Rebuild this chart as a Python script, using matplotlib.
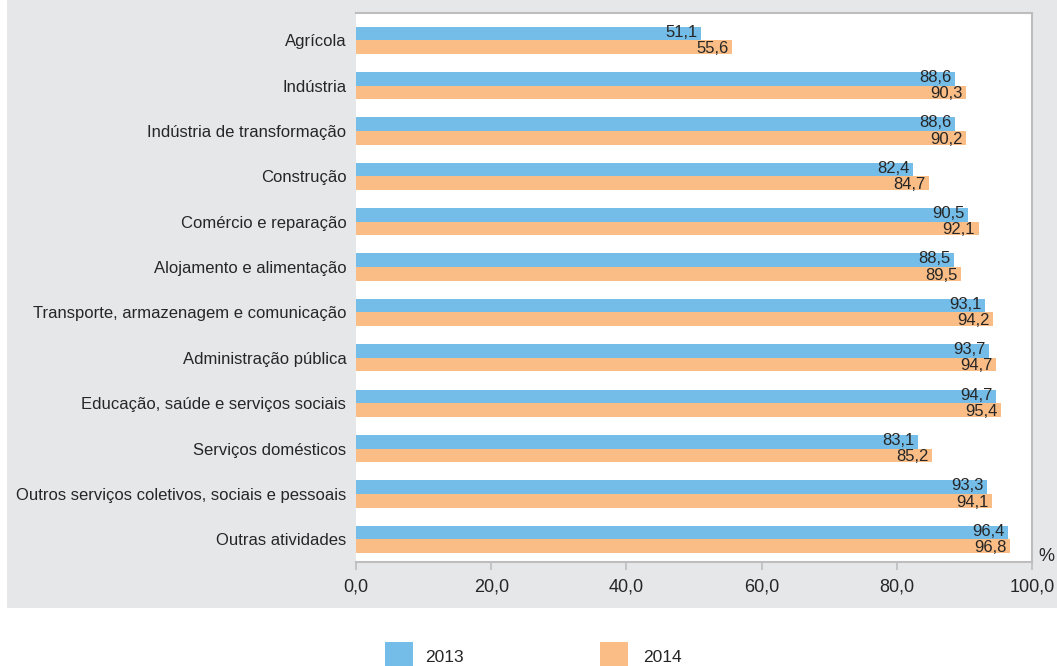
import matplotlib
matplotlib.use("Agg")
import matplotlib.pyplot as plt
from matplotlib.patches import Rectangle
import numpy as np

categories = [
    "Agrícola",
    "Indústria",
    "Indústria de transformação",
    "Construção",
    "Comércio e reparação",
    "Alojamento e alimentação",
    "Transporte, armazenagem e comunicação",
    "Administração pública",
    "Educação, saúde e serviços sociais",
    "Serviços domésticos",
    "Outros serviços coletivos, sociais e pessoais",
    "Outras atividades",
]
values_2013 = [51.1, 88.6, 88.6, 82.4, 90.5, 88.5, 93.1, 93.7, 94.7, 83.1, 93.3, 96.4]
values_2014 = [55.6, 90.3, 90.2, 84.7, 92.1, 89.5, 94.2, 94.7, 95.4, 85.2, 94.1, 96.8]
series_names = ["2013", "2014"]
x_ticks = [0, 20, 40, 60, 80, 100]

BLUE = "#74bde8"
ORANGE = "#fabd85"
PANEL = "#e6e7e9"
TEXT = "#262626"
BORDER = "#bdbdbd"
FONT = ["Liberation Sans", "DejaVu Sans"]

W, H = 1057, 666
fig = plt.figure(figsize=(W / 100, H / 100), dpi=100)
fig.patch.set_facecolor("white")

# grey background panel behind the chart
fig.patches.append(Rectangle((7 / W, 1 - 608 / H), 1 - 7 / W, 608 / H,
                             transform=fig.transFigure, facecolor=PANEL,
                             edgecolor="none", zorder=-10))

ax = fig.add_axes([356 / W, 1 - 562 / H, (1032 - 356) / W, (562 - 13) / H])
ax.set_zorder(5)
ax.set_facecolor("white")

y = np.arange(len(categories))
h = 0.30
ax.barh(y - h / 2, values_2013, height=h, color=BLUE, zorder=2)
ax.barh(y + h / 2, values_2014, height=h, color=ORANGE, zorder=2)

for i, (a, b) in enumerate(zip(values_2013, values_2014)):
    ax.text(a - 0.5, i - h / 2 - 0.03, f"{a:.1f}".replace(".", ","), ha="right",
            va="center", fontsize=12, color=TEXT, family=FONT, zorder=3)
    ax.text(b - 0.5, i + h / 2 + 0.03, f"{b:.1f}".replace(".", ","), ha="right",
            va="center", fontsize=12, color=TEXT, family=FONT, zorder=3)

ax.set_xlim(0, 100)
ax.set_ylim(len(categories) - 0.5, -0.6)
ax.set_yticks(y)
ax.set_yticklabels(categories, fontsize=12.0, color=TEXT, family=FONT)
ax.tick_params(axis="y", length=0, pad=7)
ax.set_xticks(x_ticks)
ax.set_xticklabels([f"{v:.1f}".replace(".", ",") for v in x_ticks], fontsize=13,
                   color=TEXT, family=FONT)
ax.tick_params(axis="x", length=6, width=1.2, color=BORDER, pad=6, direction="out")

for side in ["top", "right", "bottom"]:
    ax.spines[side].set_color(BORDER)
    ax.spines[side].set_linewidth(1.5)
ax.spines["left"].set_visible(False)

ax.text(1.009, -0.005, "%", transform=ax.transAxes, fontsize=13, color=TEXT,
        family=FONT, ha="left", va="bottom")

# legend
for (x0, tx), name, col in zip([(385, 425), (600, 643)], series_names, [BLUE, ORANGE]):
    fig.patches.append(Rectangle((x0 / W, 0), 28 / W, (666 - 642) / H,
                                 transform=fig.transFigure, facecolor=col,
                                 edgecolor="none"))
    fig.text(tx / W, 1 - 657 / H, name, fontsize=12.5, color=TEXT, va="center",
             ha="left", family=FONT)

fig.savefig("out.png", dpi=100, facecolor=fig.get_facecolor())
